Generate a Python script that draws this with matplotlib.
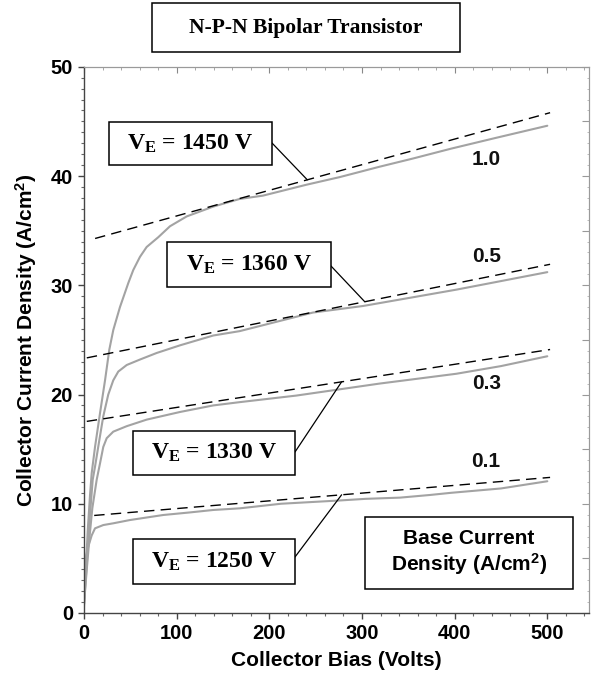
import matplotlib
matplotlib.use("Agg")
import matplotlib.pyplot as plt
from matplotlib.patches import Rectangle
from matplotlib.ticker import MultipleLocator

# ---------------------------------------------------------------- data
base_current = ["1.0", "0.5", "0.3", "0.1"]          # A/cm^2
early_voltage = [1450, 1360, 1330, 1250]              # V
tangent_j0 = [34.0, 23.3, 17.5, 8.85]                 # tangent value at 0 V
tangent_start = [12, 3, 3, 11]                        # V
tangent_end = 503                                     # V

bias_10 = [0, 2, 4, 6.5, 8.3, 11.9, 17.3, 22.7, 27.3, 31.6, 38.8, 47.8, 53.2,
           60.4, 67.6, 80.2, 92.8, 110.8, 139.5, 168, 193, 240, 276, 319,
           355, 396, 445, 500]
density_10 = [0.6, 4.0, 7.5, 10.8, 12.8, 15.2, 18.3, 21.3, 24.1, 25.9, 28.0,
              30.2, 31.4, 32.6, 33.5, 34.4, 35.4, 36.3, 37.2, 37.9, 38.2,
              39.2, 39.9, 40.85, 41.6, 42.5, 43.5, 44.6]

bias_05 = [0, 3, 6, 9.4, 11.9, 16.5, 20.8, 26.2, 31.6, 37.0, 46.1, 60.4, 78.4,
           103.6, 139.5, 168, 247, 301, 355, 402, 445, 500]
density_05 = [0.8, 4.5, 8.5, 12.2, 13.4, 15.8, 18.0, 20.0, 21.3, 22.1, 22.7,
              23.2, 23.8, 24.5, 25.4, 25.8, 27.5, 28.1, 28.9, 29.6, 30.3, 31.2]

bias_03 = [0, 3, 6, 9, 13.7, 17.3, 20.8, 24.5, 31.6, 46.1, 67.6, 103.6, 139.5,
           168, 229, 319, 402, 450, 500]
density_03 = [0.8, 4.0, 7.0, 9.6, 12.2, 13.7, 15.2, 16.0, 16.6, 17.1, 17.7,
              18.4, 19.0, 19.3, 19.9, 21.0, 21.9, 22.6, 23.5]

bias_01 = [0, 1.1, 2.5, 4.7, 8.3, 11.9, 20.8, 31.6, 49.6, 85.5, 113.6, 139.5,
           168, 212.5, 276, 304, 341, 373, 396, 450, 500]
density_01 = [1.8, 4.2, 5.3, 6.1, 7.1, 7.75, 8.05, 8.21, 8.51, 8.97, 9.2, 9.43,
              9.58, 10.0, 10.3, 10.45, 10.56, 10.8, 11.0, 11.4, 12.06]

curves = [(bias_10, density_10), (bias_05, density_05),
          (bias_03, density_03), (bias_01, density_01)]

# where each base-current value is written, and where each V_E leader lands
label_pos = [(434, 41.5), (434, 32.6), (434, 21.0), (433, 13.85)]
leader_bias = [241, 303, 278, 278]

x_ticks = [0, 100, 200, 300, 400, 500]
y_ticks = [0, 10, 20, 30, 40, 50]

# ---------------------------------------------------------------- style
W, H, DPI = 592, 679, 100
plt.rcParams["mathtext.fontset"] = "custom"
plt.rcParams["mathtext.rm"] = "Liberation Serif:bold"
plt.rcParams["mathtext.bf"] = "Liberation Serif:bold"
plt.rcParams["mathtext.it"] = "Liberation Serif:bold"
plt.rcParams["mathtext.sf"] = "Liberation Sans:bold"

SANS = "Liberation Sans"
SERIF = "Liberation Serif"
UNIT = r"(A/cm$^{\mathsf{2}}$)"


def fx(px):
    return px / W


def fy(py):
    return 1 - py / H


fig = plt.figure(figsize=(W / DPI, H / DPI), dpi=DPI)
ax = fig.add_axes([fx(84), fy(613), (589 - 84) / W, (613 - 66.75) / H])

ax.set_xlim(0, 545)
ax.set_ylim(0, 50)

for (v, j) in curves:
    ax.plot(v, j, color="#a3a3a3", lw=1.5, solid_capstyle="round", zorder=2)

for j0, ve, v0 in zip(tangent_j0, early_voltage, tangent_start):
    xs = [v0, tangent_end]
    ys = [j0 * (1 + x / ve) for x in xs]
    ax.plot(xs, ys, color="black", lw=1.0, dashes=(7.5, 4.5), zorder=3)

for txt, (lx, ly) in zip(base_current, label_pos):
    ax.text(lx, ly, txt, ha="center", va="center", fontsize=15,
            fontweight="bold", family=SANS, color="#111111")

# axes, ticks
ax.xaxis.set_major_locator(MultipleLocator(100))
ax.xaxis.set_minor_locator(MultipleLocator(20))
ax.yaxis.set_major_locator(MultipleLocator(10))
ax.yaxis.set_minor_locator(MultipleLocator(1))
ax.set_xticks(x_ticks)
ax.set_yticks(y_ticks)
ax.tick_params(which="major", direction="out", length=4, width=1.0,
               color="#444444", labelsize=14.5, pad=4)
ax.tick_params(which="minor", direction="out", length=2.5, width=0.8,
               color="#666666")
for lab in ax.get_xticklabels() + ax.get_yticklabels():
    lab.set_fontweight("bold")
    lab.set_family(SANS)
for s in ("left", "bottom"):
    ax.spines[s].set_color("#444444")
    ax.spines[s].set_linewidth(1.0)
for s in ("top", "right"):
    ax.spines[s].set_color("#9a9a9a")
    ax.spines[s].set_linewidth(0.8)

top = ax.secondary_xaxis("top")
top.xaxis.set_major_locator(MultipleLocator(100))
top.xaxis.set_minor_locator(MultipleLocator(20))
top.tick_params(which="major", direction="in", length=4, color="#888888",
                labeltop=False)
top.tick_params(which="minor", direction="in", length=2.5, color="#999999")
top.spines["top"].set_color("#9a9a9a")

right = ax.secondary_yaxis("right")
right.yaxis.set_major_locator(MultipleLocator(5))
right.yaxis.set_minor_locator(MultipleLocator(1))
right.tick_params(which="major", direction="in", length=5, color="#999999",
                  labelright=False)
right.tick_params(which="minor", direction="in", length=1.5, color="#b0b0b0")
right.spines["right"].set_color("#b0b0b0")

ax.set_xlabel("Collector Bias (Volts)", fontsize=15, fontweight="bold",
              family=SANS, labelpad=6)
ax.set_ylabel("Collector Current Density " + UNIT, fontsize=15,
              fontweight="bold", family=SANS, labelpad=8)


# framed labels
def framed(x0, y0, x1, y1, text, **kw):
    rect = Rectangle((fx(x0), fy(y1)), (x1 - x0) / W, (y1 - y0) / H,
                     transform=fig.transFigure, facecolor="white",
                     edgecolor="black", lw=1.1, zorder=5)
    fig.add_artist(rect)
    fig.text(fx((x0 + x1) / 2), fy((y0 + y1) / 2), text, ha="center",
             va="center", zorder=6, **kw)


framed(152, 3, 460, 52, "N-P-N Bipolar Transistor", fontsize=15.5,
       fontweight="bold", family=SERIF)

ve_boxes = [(109, 122, 272, 165), (167, 242, 331, 287),
            (133, 431, 295, 475), (133, 539, 295, 584)]
ve_anchor = [(272, 143), (331, 266), (295, 452), (295, 557)]
for ve, box, anc, lb, j0 in zip(early_voltage, ve_boxes, ve_anchor,
                                leader_bias, tangent_j0):
    framed(*box, r"V$_{\mathrm{E}}$ = %d V" % ve, fontsize=17,
           fontweight="bold", family=SERIF)
    ax.annotate("", xy=(lb, j0 * (1 + lb / ve)), xycoords="data",
                xytext=(fx(anc[0]), fy(anc[1])), textcoords="figure fraction",
                arrowprops=dict(arrowstyle="-", lw=0.9, color="black",
                                shrinkA=0, shrinkB=0), zorder=4)

framed(365, 517, 573, 589, "Base Current\nDensity " + UNIT, fontsize=15,
       fontweight="bold", family=SANS, linespacing=1.25)

fig.savefig("out.png", dpi=DPI)
